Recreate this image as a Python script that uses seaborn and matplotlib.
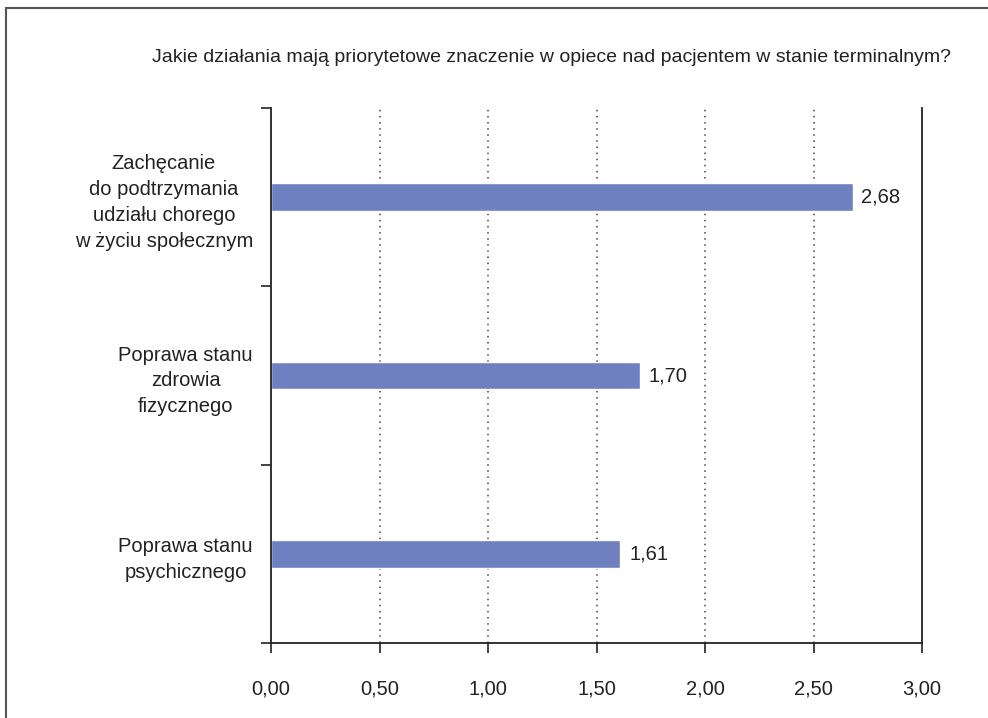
import matplotlib
matplotlib.use("Agg")
import matplotlib.pyplot as plt
import matplotlib.patches as mpatches
import seaborn as sns
import pandas as pd

title = "Jakie działania mają priorytetowe znaczenie w opiece nad pacjentem w stanie terminalnym?"
categories = [
    "Zachęcanie\ndo podtrzymania\nudziału chorego\nw życiu społecznym",
    "Poprawa stanu\nzdrowia\nfizycznego",
    "Poprawa stanu\npsychicznego",
]
values = [2.68, 1.70, 1.61]
x_ticks = [0.0, 0.5, 1.0, 1.5, 2.0, 2.5, 3.0]

bar_color = "#6f80c0"
ink = "#222222"
fs = 14

sns.set_theme(style="white")
plt.rcParams["font.family"] = ["Liberation Sans", "DejaVu Sans"]

df = pd.DataFrame({"kategoria": categories, "wartosc": values})

fig = plt.figure(figsize=(9.88, 7.18), dpi=100)
ax = fig.add_axes([271 / 988, 1 - 643 / 718, (922 - 271) / 988, (643 - 108) / 718])

sns.barplot(data=df, x="wartosc", y="kategoria", orient="h", color=bar_color,
            saturation=1, width=0.155, ax=ax)

ax.set_xlim(0, 3)
ax.set_ylim(2.5, -0.5)
ax.set_xticks(x_ticks)
ax.set_xticklabels([f"{t:.2f}".replace(".", ",") for t in x_ticks], fontsize=fs + 0.5, color=ink)
ax.tick_params(axis="x", direction="out", length=7, width=1.2, color=ink, pad=19, bottom=True)
ax.set_yticks(range(len(categories)))
ax.set_yticklabels(categories, fontsize=fs + 0.5, color=ink, linespacing=1.45,
                   multialignment="center")
ax.tick_params(axis="y", which="major", length=0, pad=13)
ax.set_yticks([-0.5, 0.5, 1.5, 2.5], minor=True)
ax.tick_params(axis="y", which="minor", direction="out", length=7, width=1.2,
               color=ink, left=True)
ax.set_xlabel("")
ax.set_ylabel("")

for v in x_ticks[1:-1]:
    ax.axvline(v, color="#444444", linestyle=(0, (1, 3)), linewidth=1.1, zorder=0)

for s in ["left", "right", "bottom"]:
    ax.spines[s].set_visible(True)
    ax.spines[s].set_color(ink)
    ax.spines[s].set_linewidth(1.3)
ax.spines["top"].set_visible(False)

for i, v in enumerate(values):
    ax.text(v + 0.04, i, f"{v:.2f}".replace(".", ","), va="center", ha="left",
            fontsize=fs + 0.5, color=ink)

fig.text(551 / 988, 1 - 57 / 718, title, ha="center", va="center", fontsize=fs, color=ink)

frame = mpatches.Rectangle((6 / 988, -0.05), 1.1, 1 - 8 / 718 + 0.05, transform=fig.transFigure,
                           fill=False, edgecolor="#555555", linewidth=1.5)
fig.patches.append(frame)

fig.savefig("out.png", dpi=100)
